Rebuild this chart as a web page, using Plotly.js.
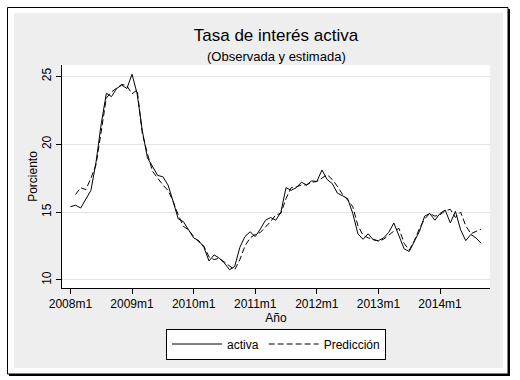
<!DOCTYPE html>
<html>
<head>
<meta charset="utf-8">
<script src="https://cdn.plot.ly/plotly-3.0.1.min.js"></script>
<style>html,body{margin:0;padding:0;background:#fff;}#chart{width:520px;height:380px;}</style>
</head>
<body>
<div id="chart"></div>
<script>
// Monthly categories 2008m1 .. 2014m9
const months = [
 "2008m1","2008m2","2008m3","2008m4","2008m5","2008m6","2008m7","2008m8","2008m9","2008m10","2008m11","2008m12",
 "2009m1","2009m2","2009m3","2009m4","2009m5","2009m6","2009m7","2009m8","2009m9","2009m10","2009m11","2009m12",
 "2010m1","2010m2","2010m3","2010m4","2010m5","2010m6","2010m7","2010m8","2010m9","2010m10","2010m11","2010m12",
 "2011m1","2011m2","2011m3","2011m4","2011m5","2011m6","2011m7","2011m8","2011m9","2011m10","2011m11","2011m12",
 "2012m1","2012m2","2012m3","2012m4","2012m5","2012m6","2012m7","2012m8","2012m9","2012m10","2012m11","2012m12",
 "2013m1","2013m2","2013m3","2013m4","2013m5","2013m6","2013m7","2013m8","2013m9","2013m10","2013m11","2013m12",
 "2014m1","2014m2","2014m3","2014m4","2014m5","2014m6","2014m7","2014m8","2014m9"
];
const activa = [
 15.4,15.5,15.3,16.0,16.6,18.7,21.5,23.75,23.5,24.1,24.35,24.1,
 25.15,23.7,21.0,19.0,18.4,17.7,17.6,17.0,15.8,14.5,14.3,13.7,
 13.1,12.9,12.4,11.4,11.85,11.6,11.25,10.75,11.0,12.4,13.2,13.55,
 13.2,13.75,14.4,14.6,14.4,15.0,16.8,16.6,16.8,17.2,17.0,17.3,
 17.25,18.1,17.4,17.1,16.4,16.2,16.0,14.9,13.4,13.0,13.4,12.95,
 12.9,13.1,13.5,14.2,13.2,12.3,12.1,12.9,13.6,14.7,14.9,14.4,
 14.9,15.15,14.2,15.05,13.7,12.9,13.35,13.1,12.7
];
const prediccion = [
 null,16.3,16.8,16.65,17.5,18.5,21.0,23.4,23.85,24.1,24.4,24.3,
 23.7,24.0,20.8,19.3,18.0,17.5,17.0,16.6,15.8,14.8,13.95,13.7,
 13.2,12.8,12.5,11.7,11.5,11.6,11.3,11.0,10.75,11.5,12.5,13.1,
 13.35,13.5,13.9,14.3,14.8,14.9,16.0,16.8,16.85,17.0,17.0,17.2,
 17.25,17.5,17.75,17.4,16.9,16.3,15.9,15.4,14.0,13.3,13.1,13.0,
 12.85,13.0,13.3,13.6,13.8,12.7,12.2,12.9,13.8,14.5,14.9,14.7,
 14.8,15.1,15.2,14.6,15.0,14.0,13.4,13.55,13.75
];
const xTickVals = ["2008m1","2009m1","2010m1","2011m1","2012m1","2013m1","2014m1"];
const yTickVals = [10,15,20,25];

// layout geometry (pixels)
const W = 520, H = 380, ML = 62, MR = 30, MT = 65, MB = 92;
const PW = W - ML - MR, PH = H - MT - MB;
const px = x => (x - ML) / PW;
const py = y => (H - MB - y) / PH;

const traces = [
  {x: months, y: activa, type: 'scatter', mode: 'lines', name: 'activa',
   line: {color: '#000', width: 1}},
  {x: months, y: prediccion, type: 'scatter', mode: 'lines', name: 'Predicción',
   line: {color: '#000', width: 1, dash: '6px,3px'}}
];

const FONT = 'Liberation Sans, Arial, Helvetica, sans-serif';

const layout = {
  width: W, height: H,
  margin: {l: ML, r: MR, t: MT, b: MB, pad: 0},
  paper_bgcolor: '#fff',
  plot_bgcolor: 'rgba(0,0,0,0)',
  font: {family: FONT, size: 12, color: '#000'},
  showlegend: true,
  title: {text: 'Tasa de interés activa', font: {family: FONT, size: 17, color: '#000'},
          x: 0.5, xref: 'paper', xanchor: 'center', y: 1 - 35 / H, yref: 'container', yanchor: 'middle'},
  xaxis: {
    type: 'category', range: [-1.64, 81.73], tickmode: 'array', tickvals: xTickVals,
    ticks: 'outside', ticklen: 5, tickcolor: '#000', tickwidth: 1,
    showline: true, linecolor: '#000', linewidth: 1, showgrid: false, zeroline: false,
    tickfont: {size: 12, color: '#000'},
    title: {text: 'Año', font: {size: 12, color: '#000'}, standoff: 0},
    automargin: false, fixedrange: true
  },
  yaxis: {
    range: [9.41, 25.83], tickmode: 'array', tickvals: yTickVals, tickangle: -90,
    ticks: 'outside', ticklen: 5, tickcolor: '#000', tickwidth: 1,
    showline: true, linecolor: '#000', linewidth: 1,
    showgrid: true, gridcolor: '#e3e3e3', gridwidth: 1, zeroline: false,
    tickfont: {size: 12, color: '#000'},
    title: {text: 'Porciento', font: {size: 12, color: '#000'}, standoff: 0},
    automargin: false, fixedrange: true
  },
  legend: {
    orientation: 'h', x: 0.5, xanchor: 'center', y: py(328.5), yanchor: 'top',
    bordercolor: '#000', borderwidth: 1, bgcolor: '#fff',
    font: {size: 12, color: '#000'}, itemwidth: 50, traceorder: 'normal'
  },
  annotations: [
    {text: '(Observada y estimada)', xref: 'paper', yref: 'paper', x: 0.5, y: py(56),
     xanchor: 'center', yanchor: 'middle', showarrow: false, font: {size: 13, color: '#000'}}
  ],
  shapes: [
    {type: 'rect', xref: 'paper', yref: 'paper', layer: 'below',
     x0: px(9), x1: px(510), y0: py(376), y1: py(9), fillcolor: '#000', line: {width: 0}},
    {type: 'rect', xref: 'paper', yref: 'paper', layer: 'below',
     x0: px(7.5), x1: px(508), y0: py(374), y1: py(7.5), fillcolor: '#fff', line: {color: '#000', width: 1}},
    {type: 'rect', xref: 'paper', yref: 'paper', layer: 'below',
     x0: px(14), x1: px(503), y0: py(368), y1: py(13), fillcolor: '#eeeeee', line: {width: 0}},
    {type: 'rect', xref: 'paper', yref: 'paper', layer: 'below',
     x0: 0, x1: 1, y0: 0, y1: 1, fillcolor: '#fff', line: {width: 0}}
  ]
};

Plotly.newPlot('chart', traces, layout, {displayModeBar: false, staticPlot: true});
</script>
</body>
</html>
